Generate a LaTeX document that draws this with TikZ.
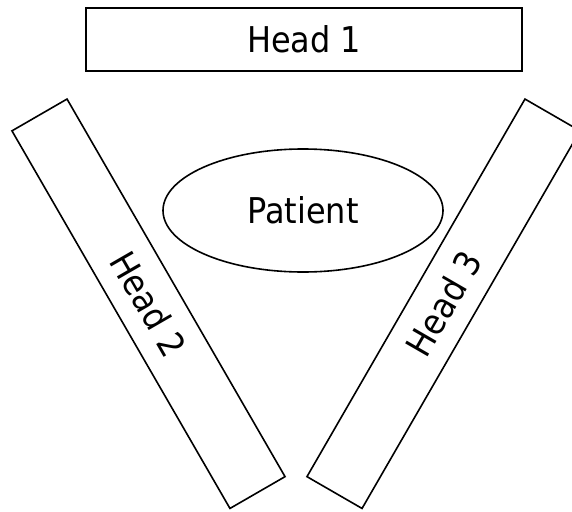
\documentclass[tikz,border=0pt]{standalone}
\usepackage{fontspec}
\setmainfont{DejaVu Sans Condensed}
\usetikzlibrary{shapes.geometric}
\begin{document}
\begin{tikzpicture}[x=1pt,y=-1pt,
  headbox/.style={draw=black,line width=1.6pt,minimum height=63.6pt,inner sep=0pt,font=\fontsize{35.5}{40}\selectfont},
  patientnode/.style={draw=black,line width=1.6pt,ellipse,minimum width=280pt,minimum height=123pt,inner sep=0pt,font=\fontsize{35.5}{40}\selectfont}]
\useasboundingbox (0,0) rectangle (572,511);
\node[headbox,minimum width=436pt,minimum height=63pt] (h1) at (304,39.5) {Head 1};
\node[patientnode] (pat) at (303,210.5) {Patient};
\node[headbox,minimum width=436pt,rotate=-60] (h2) at (148.5,303.75) {Head 2};
\node[headbox,minimum width=436pt,rotate=60] (h3) at (443.5,303.75) {Head 3};
\end{tikzpicture}
\end{document}
